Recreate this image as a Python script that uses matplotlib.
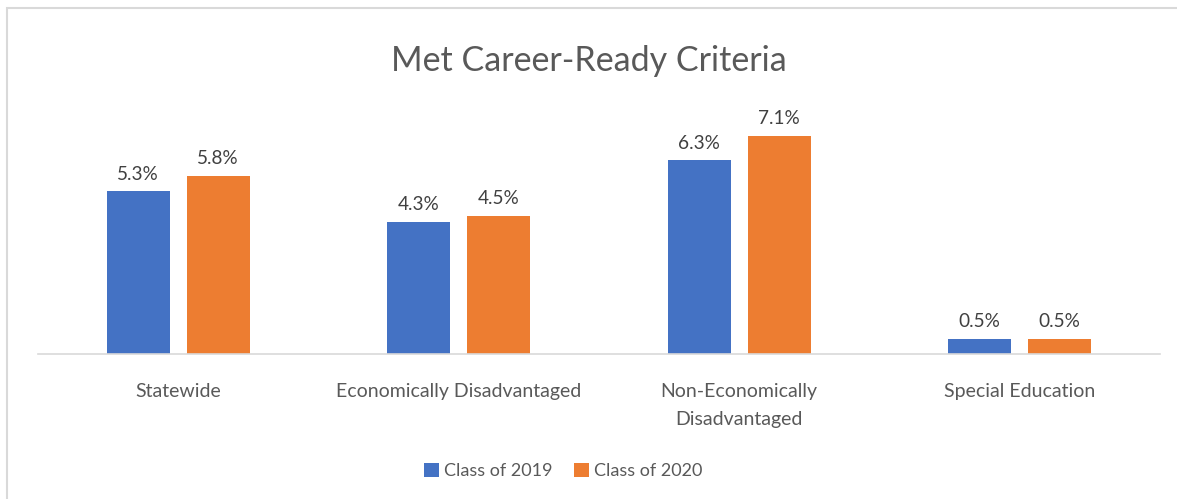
import numpy as np
import matplotlib.pyplot as plt
from matplotlib.patches import Rectangle

plt.rcParams['font.family'] = ['Lato', 'DejaVu Sans']

# Data
categories = ['Statewide', 'Economically Disadvantaged',
              'Non-Economically\nDisadvantaged', 'Special Education']
class_2019 = [5.3, 4.3, 6.3, 0.5]
class_2020 = [5.8, 4.5, 7.1, 0.5]
series_names = ['Class of 2019', 'Class of 2020']

blue = '#4472C4'
orange = '#ED7D31'
text_grey = '#595959'

fig = plt.figure(figsize=(11.77, 4.99), dpi=100)

# light grey chart border (image is cropped on right/bottom)
fig.patches.append(Rectangle((7 / 1177, -0.1), 1.2, (499 - 8) / 499 + 0.1,
                             transform=fig.transFigure, fill=False,
                             edgecolor='#D9D9D9', lw=1.5))

ax = fig.add_axes([38 / 1177, 145 / 499, 1122 / 1177, 246 / 499])

x = np.arange(len(categories))
w = 0.2246
off = 0.1426
b1 = ax.bar(x - off, class_2019, w, color=blue, label=series_names[0])
b2 = ax.bar(x + off, class_2020, w, color=orange, label=series_names[1])

for bars, vals in [(b1, class_2019), (b2, class_2020)]:
    for b, v in zip(bars, vals):
        ax.annotate(f'{v:.1f}%', (b.get_x() + b.get_width() / 2, v),
                    xytext=(0, 6), textcoords='offset points',
                    ha='center', va='bottom', fontsize=13.7, color='#404040')

ax.set_xlim(-0.5, 3.5)
ax.set_ylim(0, 8)
ax.set_yticks([])
ax.set_xticks(x)
ax.set_xticklabels(categories, fontsize=14, color=text_grey, linespacing=1.75)
ax.tick_params(axis='x', length=0, pad=21)
for s in ['top', 'right', 'left']:
    ax.spines[s].set_visible(False)
ax.spines['bottom'].set_color('#D9D9D9')
ax.spines['bottom'].set_linewidth(1.2)

fig.text(0.5, 1 - 61 / 499, 'Met Career-Ready Criteria', ha='center',
         va='center', fontsize=24.5, color=text_grey)

fig.legend(handles=[b1, b2], loc='center',
           bbox_to_anchor=(563.5 / 1177, 1 - 471 / 499),
           ncol=2, frameon=False, fontsize=13, labelcolor=text_grey,
           handlelength=0.8, handleheight=0.8, handletextpad=0.3,
           columnspacing=1.2)

plt.savefig('out.png', dpi=100)
